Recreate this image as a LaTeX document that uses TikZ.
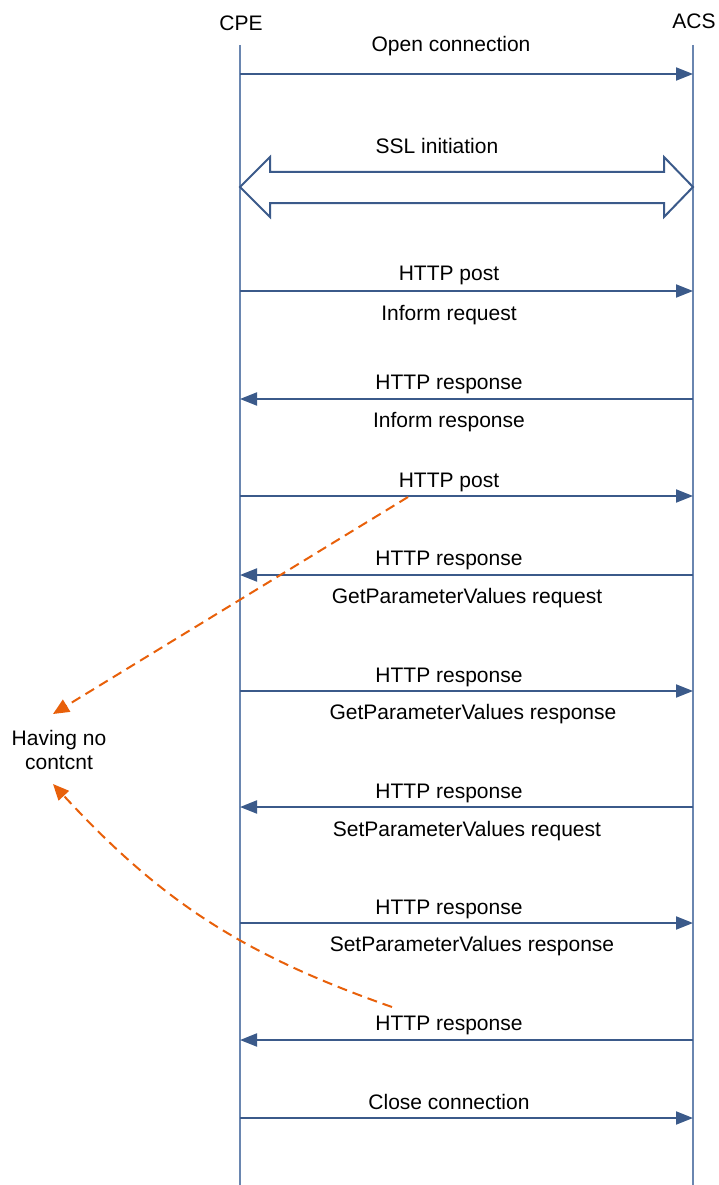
\documentclass[tikz,border=0pt]{standalone}
\usepackage{fontspec}
\setmainfont{Liberation Sans}
\usetikzlibrary{arrows.meta,calc}
\definecolor{msgblue}{HTML}{3B5A8A}
\definecolor{lifeblue}{HTML}{6A86B0}
\definecolor{noteorange}{HTML}{E8600A}
\begin{document}
\begin{tikzpicture}[x=1pt,y=-1pt,
  txt/.style={font=\fontsize{21}{25}\selectfont, inner sep=0pt, anchor=base},
  lifeline/.style={draw=lifeblue, line width=1.1pt},
  msg/.style={draw=msgblue, line width=2pt, -{Triangle[length=17pt,width=13pt]}},
  note/.style={draw=noteorange, line width=2pt, dash pattern=on 10pt off 6pt, -{Triangle[length=16pt,width=14pt]}},
  ssl/.style={draw=msgblue, line width=2pt, fill=white, line join=miter}]
\useasboundingbox (0,0) rectangle (718,1185);
% participants
\node[txt] (cpe) at (241,31) {CPE};
\node[txt] (acs) at (694,29) {ACS};
\coordinate (cpetop) at (240,45);
\coordinate (cpebot) at (240,1185);
\coordinate (acstop) at (693,45);
\coordinate (acsbot) at (693,1185);
\draw[lifeline] (cpetop) -- (cpebot);
\draw[lifeline] (acstop) -- (acsbot);
% message end points
\foreach \n/\y in {1/74,3/291,4/399,5/496,6/575,7/691,8/807,9/923,10/1040,11/1118}{
  \coordinate (c\n) at (240,\y);
  \coordinate (a\n) at (693,\y);
}
% Open connection
\draw[msg] (c1) -- (a1);
\node[txt] (l1) at (451,52) {Open connection};
% SSL initiation
\coordinate (c2) at (240,187);
\coordinate (a2) at (693,187);
\draw[ssl] (c2) -- ++(30,-30) -- ++(0,15) -- ($(a2)+(-29,-15)$) -- ++(0,-15) -- (a2)
  -- ++(-29,30) -- ++(0,-14) -- ($(c2)+(30,16)$) -- ++(0,14) -- cycle;
\node[txt] (l2) at (437,154) {SSL initiation};
% HTTP post / Inform request
\draw[msg] (c3) -- (a3);
\node[txt] (l3a) at (449,280) {HTTP post};
\node[txt] (l3b) at (449,320) {Inform request};
% HTTP response / Inform response
\draw[msg] (a4) -- (c4);
\node[txt] (l4a) at (449,389) {HTTP response};
\node[txt] (l4b) at (449,427) {Inform response};
% HTTP post (empty)
\draw[msg] (c5) -- (a5);
\node[txt] (l5a) at (449,487) {HTTP post};
% GetParameterValues request
\draw[msg] (a6) -- (c6);
\node[txt] (l6a) at (449,565) {HTTP response};
\node[txt] (l6b) at (467,603) {GetParameterValues request};
% GetParameterValues response
\draw[msg] (c7) -- (a7);
\node[txt] (l7a) at (449,682) {HTTP response};
\node[txt] (l7b) at (473,719) {GetParameterValues response};
% SetParameterValues request
\draw[msg] (a8) -- (c8);
\node[txt] (l8a) at (449,798) {HTTP response};
\node[txt] (l8b) at (467,836) {SetParameterValues request};
% SetParameterValues response
\draw[msg] (c9) -- (a9);
\node[txt] (l9a) at (449,914) {HTTP response};
\node[txt] (l9b) at (472,951) {SetParameterValues response};
% HTTP response (empty)
\draw[msg] (a10) -- (c10);
\node[txt] (l10a) at (449,1030) {HTTP response};
% Close connection
\draw[msg] (c11) -- (a11);
\node[txt] (l11) at (449,1109) {Close connection};
% note
\node[font=\fontsize{21}{24}\selectfont, align=center, inner sep=0pt] (hnc) at (59,750) {Having no\\contcnt};
\coordinate (n1s) at (408,497);
\coordinate (n1e) at (53,714);
\coordinate (n2s) at (392,1007);
\coordinate (n2e) at (53,784);
\draw[note] (n1s) -- (n1e);
\draw[note] (n2s) to[bend left=14] (n2e);
\end{tikzpicture}
\end{document}
